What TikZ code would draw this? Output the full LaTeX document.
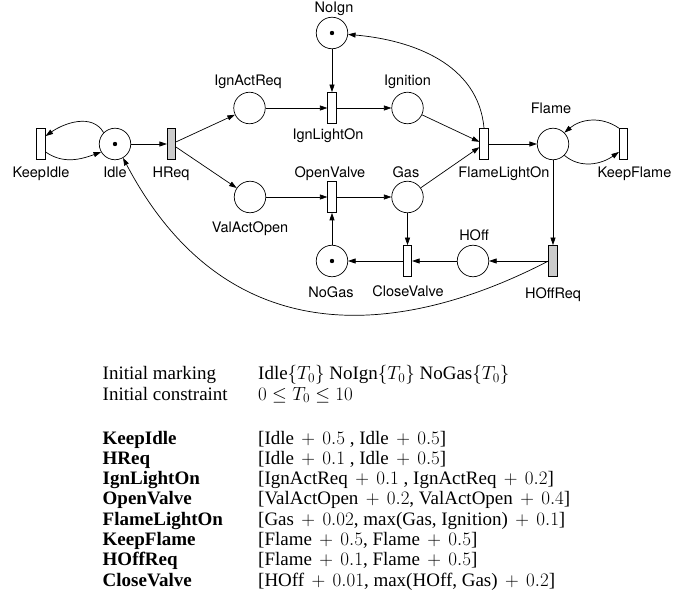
\RequirePackage{fix-cm}
\documentclass[tikz,border=0pt]{standalone}
\usepackage[no-math]{fontspec}
\setmainfont{Liberation Serif}
\newfontfamily\netfont{TeX Gyre Heros}
\usetikzlibrary{arrows.meta}
% "+ offset" with a little extra room around the plus sign
\newcommand\tp[1]{${}\mskip3mu+\mskip3mu#1$}

\begin{document}
\begin{tikzpicture}[x=1pt,y=1pt,
  place/.style={circle,draw,line width=0.7pt,minimum size=31.5pt,inner sep=0pt},
  trans/.style={rectangle,draw,line width=0.7pt,minimum width=8.5pt,minimum height=31pt,inner sep=0pt},
  busy/.style={trans,fill=black!20},
  arc/.style={line width=0.7pt,-{Triangle[length=7.5pt,width=5pt]}},
  lbl/.style={anchor=base,inner sep=0pt,font=\netfont\fontsize{14.5}{17}\selectfont},
  tbl/.style={anchor=base west,inner sep=0pt,font=\fontsize{19}{21}\selectfont},
  token/.style={circle,fill,inner sep=0pt,minimum size=4.4pt}
]
\useasboundingbox (0,0) rectangle (696,-601);

% places
\node[place] (Idle)       at (115,-144)   {};
\node[place] (IgnActReq)  at (249.5,-108) {};
\node[place] (ValActOpen) at (250,-197)   {};
\node[place] (NoIgn)      at (332,-33)    {};
\node[place] (Ignition)   at (407.5,-108) {};
\node[place] (Gas)        at (407.5,-197) {};
\node[place] (NoGas)      at (332,-261)   {};
\node[place] (Flame)      at (553,-144)   {};
\node[place] (HOff)       at (473,-261)   {};

% initial tokens
\node[token] (tokIdle)  at (Idle)  {};
\node[token] (tokNoIgn) at (NoIgn) {};
\node[token] (tokNoGas) at (NoGas) {};

% transitions
\node[trans] (KeepIdle)     at (41,-144)    {};
\node[busy]  (HReq)         at (171.5,-144) {};
\node[trans] (IgnLightOn)   at (332,-108)   {};
\node[trans] (OpenValve)    at (332,-197)   {};
\node[trans] (FlameLightOn) at (484,-144)   {};
\node[trans] (KeepFlame)    at (623.5,-144) {};
\node[trans] (CloseValve)   at (407.5,-261) {};
\node[busy]  (HOffReq)      at (553,-261)   {};

% labels
\node[lbl] (lNoIgn)        at (334,-13)   {NoIgn};
\node[lbl] (lIgnActReq)    at (248,-86)   {IgnActReq};
\node[lbl] (lIgnition)     at (407.5,-86) {Ignition};
\node[lbl] (lIgnLightOn)   at (328,-140)  {IgnLightOn};
\node[lbl] (lFlame)        at (551,-114)  {Flame};
\node[lbl] (lOpenValve)    at (330,-178)  {OpenValve};
\node[lbl] (lGas)          at (406,-178)  {Gas};
\node[lbl] (lKeepIdle)     at (41,-178)   {KeepIdle};
\node[lbl] (lIdle)         at (115,-178)  {Idle};
\node[lbl] (lHReq)         at (171,-178)  {HReq};
\node[lbl] (lFlameLightOn) at (504,-178)  {FlameLightOn};
\node[lbl] (lKeepFlame)    at (634.5,-178){KeepFlame};
\node[lbl] (lValActOpen)   at (250,-233)  {ValActOpen};
\node[lbl] (lHOff)         at (474,-241)  {HOff};
\node[lbl] (lCloseValve)   at (408,-297)  {CloseValve};
\node[lbl] (lNoGas)        at (331,-298)  {NoGas};
\node[lbl] (lHOffReq)      at (553,-299)  {HOffReq};

% arcs
\draw[arc] (Idle) -- (HReq);
\draw[arc] (HReq) -- (IgnActReq);
\draw[arc] (HReq) -- (ValActOpen);
\draw[arc] (IgnActReq) -- (IgnLightOn);
\draw[arc] (NoIgn) -- (IgnLightOn);
\draw[arc] (IgnLightOn) -- (Ignition);
\draw[arc] (ValActOpen) -- (OpenValve);
\draw[arc] (NoGas) -- (OpenValve);
\draw[arc] (OpenValve) -- (Gas);
\draw[arc] (Ignition) -- (FlameLightOn);
\draw[arc] (Gas) -- (FlameLightOn);
\draw[arc] (Gas) -- (CloseValve);
\draw[arc] (FlameLightOn) -- (Flame);
\draw[arc] (Flame) -- (HOffReq);
\draw[arc] (HOffReq) -- (HOff);
\draw[arc] (HOff) -- (CloseValve);
\draw[arc] (CloseValve) -- (NoGas);
\draw[arc] (FlameLightOn.north) to[out=95,in=-5] (NoIgn);
\draw[arc] (Idle.135) to[out=120,in=35] (KeepIdle.60);
\draw[arc] (KeepIdle.-60) to[out=-35,in=-160] (Idle.-150);
\draw[arc] (KeepFlame.north west) to[out=145,in=40] (Flame.45);
\draw[arc] (Flame.-45) to[out=-40,in=-145] (KeepFlame.-120);
\draw[arc] (HOffReq.west) .. controls +(-109.5,-57) and +(117,-222) .. (Idle.-60);

% timing table
\node[tbl] (mk1) at (102.5,-380)   {Initial marking};
\node[tbl] (mk2) at (258,-380)     {Idle$\{T_0\}$ NoIgn$\{T_0\}$ NoGas$\{T_0\}$};
\node[tbl] (cs1) at (102.5,-400)   {Initial constraint};
\node[tbl] (cs2) at (258,-400)     {$0\le T_0\le 10$};

\node[tbl] (r1a) at (102.5,-444)   {\bfseries KeepIdle};
\node[tbl] (r1b) at (258,-444)     {[Idle\tp{0.5} , Idle\tp{0.5}]};
\node[tbl] (r2a) at (102.5,-464.3) {\bfseries HReq};
\node[tbl] (r2b) at (258,-464.3)   {[Idle\tp{0.1} , Idle\tp{0.5}]};
\node[tbl] (r3a) at (102.5,-484.6) {\bfseries IgnLightOn};
\node[tbl] (r3b) at (258,-484.6)   {[IgnActReq\tp{0.1} , IgnActReq\tp{0.2}]};
\node[tbl] (r4a) at (102.5,-504.9) {\bfseries OpenValve};
\node[tbl] (r4b) at (258,-504.9)   {[ValActOpen\tp{0.2}, ValActOpen\tp{0.4}]};
\node[tbl] (r5a) at (102.5,-525.2) {\bfseries FlameLightOn};
\node[tbl] (r5b) at (258,-525.2)   {[Gas\tp{0.02}, max(Gas, Ignition)\tp{0.1}]};
\node[tbl] (r6a) at (102.5,-545.5) {\bfseries KeepFlame};
\node[tbl] (r6b) at (258,-545.5)   {[Flame\tp{0.5}, Flame\tp{0.5}]};
\node[tbl] (r7a) at (102.5,-565.8) {\bfseries HOffReq};
\node[tbl] (r7b) at (258,-565.8)   {[Flame\tp{0.1}, Flame\tp{0.5}]};
\node[tbl] (r8a) at (102.5,-586.1) {\bfseries CloseValve};
\node[tbl] (r8b) at (258,-586.1)   {[HOff\tp{0.01}, max(HOff, Gas)\tp{0.2}]};
\end{tikzpicture}
\end{document}
